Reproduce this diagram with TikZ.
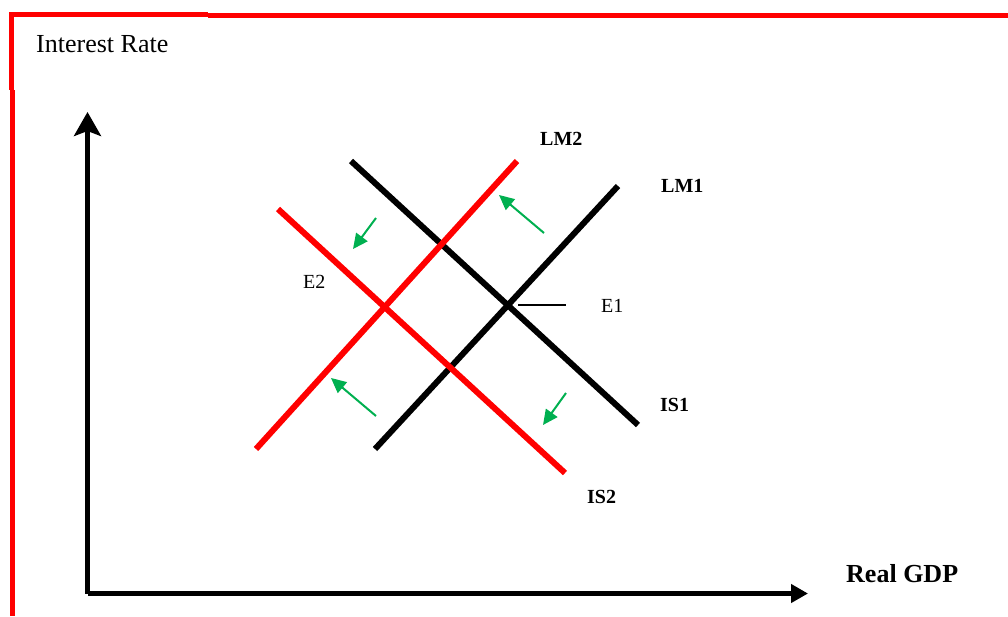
\documentclass[tikz,border=0pt]{standalone}
\usepackage{fontspec}
\setmainfont{Liberation Serif}
\usetikzlibrary{arrows.meta}
\definecolor{bordred}{RGB}{255,0,0}
\definecolor{arrgreen}{RGB}{0,176,80}
\tikzset{
  frame/.style={bordred, line width=5pt},
  axis/.style={black, line width=4.5pt},
  blackcurve/.style={black, line width=6pt},
  redcurve/.style={bordred, line width=6pt},
  shift arrow/.style={arrgreen, line width=2pt, -{Triangle[length=15pt,width=14pt]}},
  bigtxt/.style={font=\fontsize{26}{30}\selectfont, anchor=base west, inner sep=0pt},
  bigbold/.style={font=\fontsize{26}{30}\selectfont\bfseries, anchor=base west, inner sep=0pt},
  lbl/.style={font=\fontsize{20}{24}\selectfont\bfseries, anchor=base west, inner sep=0pt},
  eqlbl/.style={font=\fontsize{20}{24}\selectfont, anchor=base west, inner sep=0pt},
}
\begin{document}
\begin{tikzpicture}[x=1pt,y=-1pt]
\useasboundingbox (0,0) rectangle (1008,616);
% frame
\draw[frame] (9,14) -- (208,14);
\draw[frame] (208,15.5) -- (1008,15.5);
\draw[frame] (11,12) -- (11,90);
\draw[frame] (12,90) -- (12,616);
% axes
\coordinate (origin) at (87.5,593.5);
\coordinate (ytop) at (87.5,112);
\coordinate (xend) at (808,593.5);
\draw[axis, -{Stealth[length=24pt,width=27pt,inset=5pt]}] (origin) -- (ytop);
\draw[axis, -{Triangle[length=17pt,width=18pt]}] (origin) -- (xend);
% curves
\coordinate (lm1a) at (375,449); \coordinate (lm1b) at (618,186);
\coordinate (is1a) at (351,161); \coordinate (is1b) at (638,425);
\coordinate (lm2a) at (256,449); \coordinate (lm2b) at (517,161);
\coordinate (is2a) at (278,209); \coordinate (is2b) at (565,473);
\draw[blackcurve] (lm1a) -- (lm1b);
\draw[blackcurve] (is1a) -- (is1b);
\draw[redcurve] (lm2a) -- (lm2b);
\draw[redcurve] (is2a) -- (is2b);
% E1 tick
\coordinate (e1a) at (518,305); \coordinate (e1b) at (566,305);
\draw[black, line width=1.5pt] (e1a) -- (e1b);
% green shift arrows
\coordinate (g1a) at (376,218); \coordinate (g1b) at (353,249);
\coordinate (g2a) at (544,233); \coordinate (g2b) at (499,195);
\coordinate (g3a) at (376,416); \coordinate (g3b) at (331,378);
\coordinate (g4a) at (566,393); \coordinate (g4b) at (543,425);
\draw[shift arrow] (g1a) -- (g1b);
\draw[shift arrow] (g2a) -- (g2b);
\draw[shift arrow] (g3a) -- (g3b);
\draw[shift arrow] (g4a) -- (g4b);
% labels
\node[bigtxt] (ylab) at (36,52.7) {Interest Rate};
\node[bigbold] (xlab) at (846,582) {Real GDP};
\node[lbl] (lm2lab) at (540,145) {LM2};
\node[lbl] (lm1lab) at (661,192.7) {LM1};
\node[lbl] (is1lab) at (660,411) {IS1};
\node[lbl] (is2lab) at (587,503) {IS2};
\node[eqlbl] (e1lab) at (601,312) {E1};
\node[eqlbl] (e2lab) at (303,288) {E2};
\end{tikzpicture}
\end{document}
